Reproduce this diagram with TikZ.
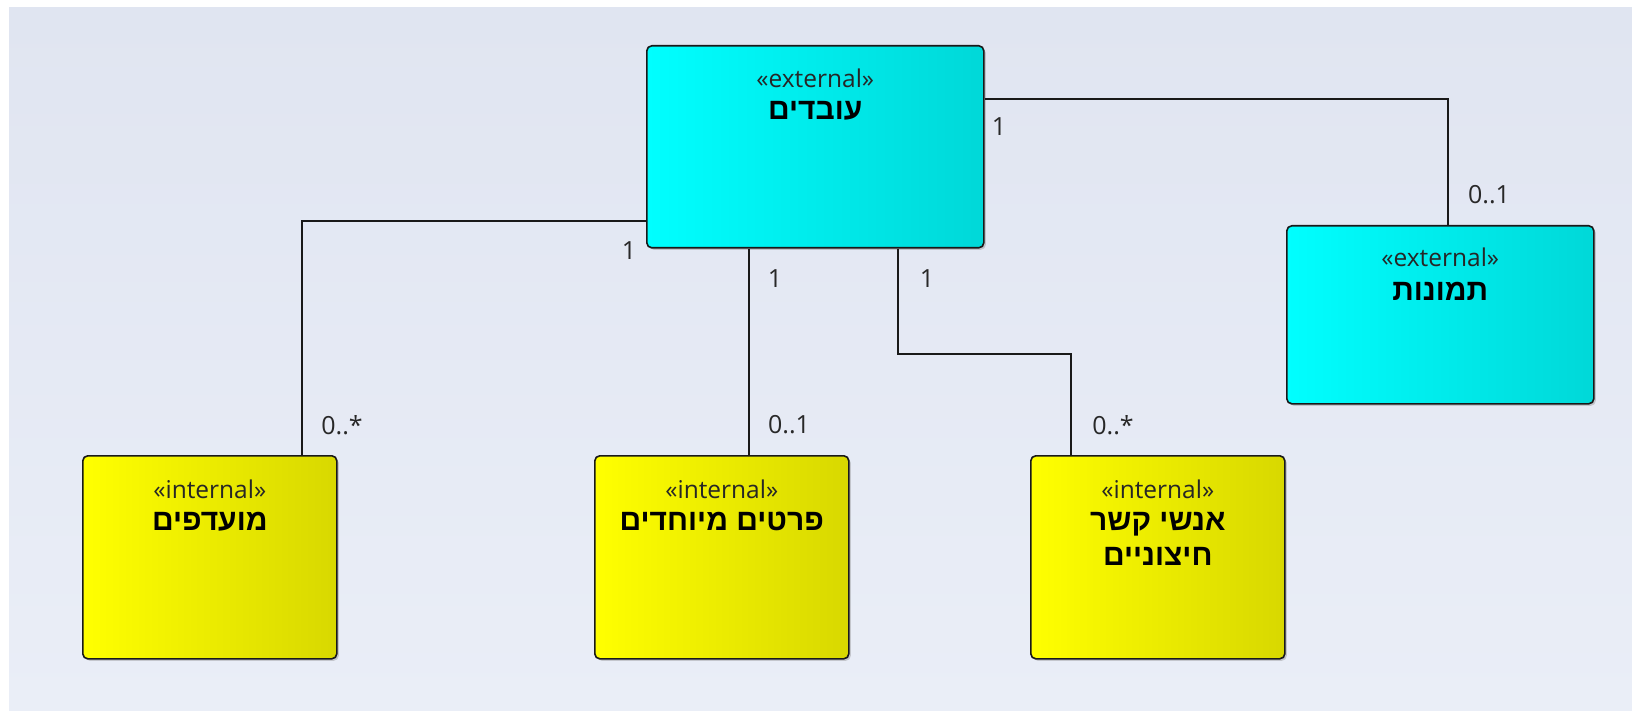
\documentclass[tikz,border=0pt]{standalone}
\usepackage{fontspec}
\setmainfont{Open Sans}
\newfontfamily\hebfont[Script=Hebrew]{Liberation Sans}
\TeXXeTstate=1
\usetikzlibrary{shadows,calc}
\definecolor{bgtop}{RGB}{224,229,241}
\definecolor{bgbot}{RGB}{234,238,247}
\definecolor{cyanL}{RGB}{0,255,255}
\definecolor{cyanR}{RGB}{0,216,216}
\definecolor{yelL}{RGB}{255,255,0}
\definecolor{yelR}{RGB}{216,216,0}
\definecolor{edge}{RGB}{25,25,25}
\definecolor{lbl}{RGB}{40,40,40}
\tikzset{
  classbox/.style={draw=edge, line width=1.6pt, rounded corners=5pt, anchor=north west,
    inner sep=0pt, drop shadow={shadow xshift=2pt, shadow yshift=-2pt, opacity=0.35}},
  extbox/.style={classbox, left color=cyanL, right color=cyanR},
  intbox/.style={classbox, left color=yelL, right color=yelR},
  stereo/.style={font=\fontsize{24.5}{27}\selectfont, text=black!85, inner sep=0pt},
  heb/.style={font=\hebfont\bfseries\fontsize{30}{35}\selectfont, align=center, inner sep=0pt, anchor=base},
  mult/.style={font=\fontsize{25}{27}\selectfont, text=lbl, inner sep=0pt},
  conn/.style={draw=edge, line width=1.6pt}
}
\begin{document}
\begin{tikzpicture}[x=1pt,y=-1pt]
\useasboundingbox (0,0) rectangle (1632,711);
\fill[white] (0,0) rectangle (1632,711);
\shade[top color=bgtop, bottom color=bgbot] (9,8) rectangle (1632,711);

% connector bend coordinates
\coordinate (cT) at (1448,99);
\coordinate (cM) at (302,221);
\coordinate (cP) at (749,0);
\coordinate (cA1) at (898,354);
\coordinate (cA2) at (1071,354);

\node[extbox, minimum width=337pt, minimum height=202pt] (e) at (646,45) {};
\node[extbox, minimum width=307pt, minimum height=178pt] (t) at (1286,225) {};
\node[intbox, minimum width=254pt, minimum height=203pt] (m) at (82,455) {};
\node[intbox, minimum width=254pt, minimum height=203pt] (p) at (594,455) {};
\node[intbox, minimum width=254pt, minimum height=203pt] (a) at (1030,455) {};

\draw[conn] (e.east |- cT) -| (t.north -| cT);
\draw[conn] (e.west |- cM) -| (m.north -| cM);
\draw[conn] (e.south -| cP) -- (p.north -| cP);
\draw[conn] (e.south -| cA1) -- (cA1) -- (cA2) -- (a.north -| cA2);

% texts
\node[stereo] at ($(e.north)+(0,33)$) {«external»};
\node[heb] at ($(e.north)+(0,75)$) {\beginR עובדים\endR};
\node[stereo] at ($(t.north)+(0,32)$) {«external»};
\node[heb] at ($(t.north)+(0,75)$) {\beginR תמונות\endR};
\node[stereo] at ($(m.north)+(0,34)$) {«internal»};
\node[heb] at ($(m.north)+(0,75)$) {\beginR מועדפים\endR};
\node[stereo] at ($(p.north)+(0,34)$) {«internal»};
\node[heb] at ($(p.north)+(0,75)$) {\beginR פרטים מיוחדים\endR};
\node[stereo] at ($(a.north)+(0,34)$) {«internal»};
\node[heb] at ($(a.north)+(0,110)$) {\beginR אנשי קשר\endR\\\beginR חיצוניים\endR};

% multiplicities
\node[mult] (l1) at (999,127) {1};
\node[mult] (l2) at (1489,195) {0..1};
\node[mult] (l3) at (629,251) {1};
\node[mult] (l4) at (775,279) {1};
\node[mult] (l5) at (927,279) {1};
\node[mult] (l6) at (342,425) {0..*};
\node[mult] (l7) at (789,425) {0..1};
\node[mult] (l8) at (1113,425) {0..*};
\end{tikzpicture}
\end{document}
